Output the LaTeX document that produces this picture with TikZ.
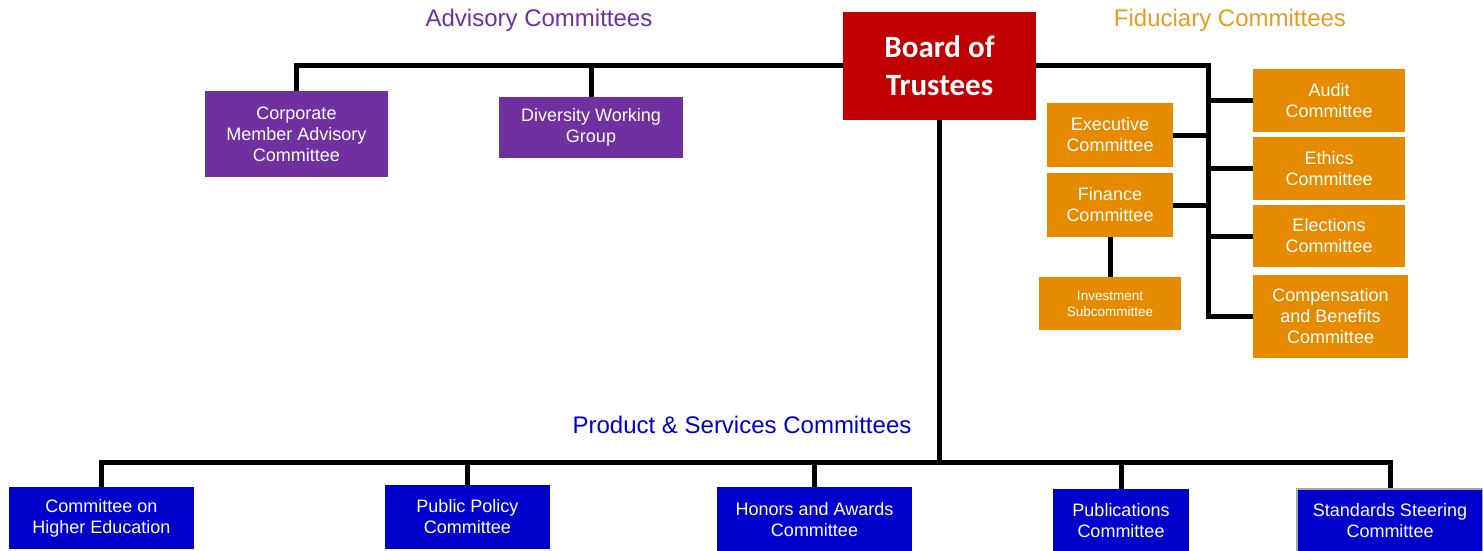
\documentclass[tikz,border=0pt]{standalone}
\usepackage{fontspec}
\setmainfont{Liberation Sans}
\newfontfamily\boardfont{Carlito}
\usepackage{tikz}

\definecolor{boardred}{HTML}{C00000}
\definecolor{advpurple}{HTML}{7030A0}
\definecolor{fidorange}{HTML}{E68A00}
\definecolor{fidtitle}{HTML}{E89B22}
\definecolor{prodblue}{HTML}{0000CC}

\begin{document}
\begin{tikzpicture}[x=1pt,y=-1pt,
	box/.style={shape=rectangle,inner sep=0pt,align=center,text=white,
		font=\fontsize{18}{21}\selectfont},
	adv/.style={box,fill=advpurple},
	fid/.style={box,fill=fidorange},
	prod/.style={box,fill=prodblue},
	link/.style={draw=black,line width=5pt},
	heading/.style={font=\fontsize{24}{28}\selectfont}]
	
	\useasboundingbox (0,0) rectangle (1483,551);
	
	% headings
	\node[heading,text=advpurple] (advt) at (539, 20)  {Advisory Committees};
	\node[heading,text=fidtitle]  (fidt) at (1230, 20) {Fiduciary Committees};
	\node[heading,text=prodblue]  (prodt) at (742, 425) {Product \& Services Committees};
	
	% board
	\node[box,fill=boardred,minimum width=193pt,minimum height=108pt,
		font=\boardfont\bfseries\fontsize{31}{38}\selectfont] (board) at (939.5, 66) {Board of\\Trustees};
	
	% advisory
	\node[adv,minimum width=183pt,minimum height=86pt] (corp) at (296.5, 134)  {Corporate\\Member Advisory\\Committee};
	\node[adv,minimum width=184pt,minimum height=61pt] (div)  at (591, 127.5)  {Diversity Working\\Group};
	
	% fiduciary
	\node[fid,minimum width=126pt,minimum height=64pt] (exec)   at (1110, 135)    {Executive\\Committee};
	\node[fid,minimum width=126pt,minimum height=64pt] (fin)    at (1110, 205)    {Finance\\Committee};
	\node[fid,minimum width=142pt,minimum height=53pt,
		font=\fontsize{13.5}{16}\selectfont]          (inv)    at (1110, 303.5)  {Investment\\Subcommittee};
	\node[fid,minimum width=152pt,minimum height=63pt] (audit)  at (1329, 100.5)  {Audit\\Committee};
	\node[fid,minimum width=152pt,minimum height=63pt] (ethics) at (1329, 168.5)  {Ethics\\Committee};
	\node[fid,minimum width=152pt,minimum height=62pt] (elect)  at (1329, 236)    {Elections\\Committee};
	\node[fid,minimum width=155pt,minimum height=83pt] (comp)   at (1330.5, 316.5) {Compensation\\and Benefits\\Committee};
	
	% product and services
	\node[prod,minimum width=185pt,minimum height=62pt] (che) at (101.5, 518)  {Committee on\\Higher Education};
	\node[prod,minimum width=165pt,minimum height=64pt] (ppc) at (467.5, 517)  {Public Policy\\Committee};
	\node[prod,minimum width=195pt,minimum height=65pt] (hac) at (814.5, 519.5) {Honors and Awards\\Committee};
	\node[prod,minimum width=136pt,minimum height=63pt] (pub) at (1121, 520.5) {Publications\\Committee};
	\node[prod,minimum width=186pt,minimum height=63pt,draw=gray!70,line width=1.5pt] (ssc) at (1390, 520.5) {Standards Steering\\Committee};
	
	\coordinate (fbus) at (1208, 66);
	\coordinate (pbus) at (939.5, 462);
	
	% connectors
	\draw[link] (board.west) -| (corp.north);
	\draw[link] (board.west) -| (div.north);
	\draw[link] (board.east) -- (fbus) |- (comp.west);
	\draw[link] (audit.west)  -- (audit.west -| fbus);
	\draw[link] (ethics.west) -- (ethics.west -| fbus);
	\draw[link] (elect.west)  -- (elect.west -| fbus);
	\draw[link] (exec.east)   -- (exec.east -| fbus);
	\draw[link] (fin.east)    -- (fin.east -| fbus);
	\draw[link] (fin.south)   -- (inv.north);
	\draw[link] (board.south) -- (pbus);
	\draw[link] (che.north) |- (pbus);
	\draw[link] (ppc.north) |- (pbus);
	\draw[link] (hac.north) |- (pbus);
	\draw[link] (pub.north) |- (pbus);
	\draw[link] (ssc.north) |- (pbus);
	
\end{tikzpicture}
\end{document}
